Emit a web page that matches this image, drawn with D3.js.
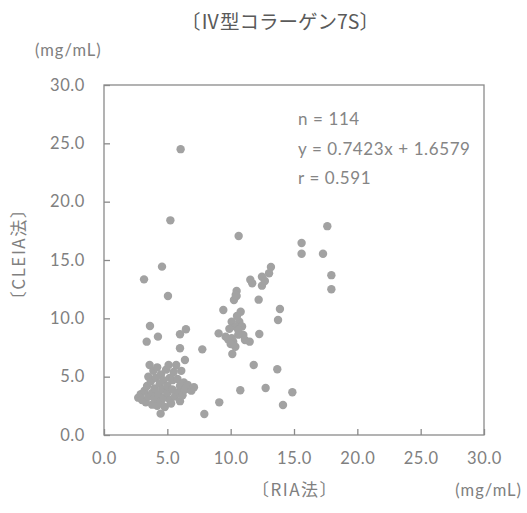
<!DOCTYPE html>
<html><head><meta charset="utf-8">
<script src="https://cdn.jsdelivr.net/npm/d3@7"></script>
<style>body{margin:0;background:#fff}</style>
</head><body>
<svg id="c" width="527" height="513"></svg>
<script>
const title = "〔Ⅳ型コラーゲン7S〕";
const xLabel = "〔RIA法〕";
const yLabel = "〔CLEIA法〕";
const unitLabel = "(mg/mL)";
const statLines = ["n = 114", "y = 0.7423x + 1.6579", "r = 0.591"];
const xTicks = [0, 5, 10, 15, 20, 25, 30];
const yTicks = [0, 5, 10, 15, 20, 25, 30];
const xValues = [6.05,5.24,10.63,17.63,15.6,15.6,17.29,17.95,17.95,4.58,3.16,5.05,13.18,13.03,12.47,11.55,12.47,10.47,10.47,10.26,12.21,13.89,13.74,9.42,10.79,10.08,10.68,10.39,9.05,9.6,10.08,11.0,11.13,11.5,12.26,10.37,10.13,7.76,3.63,4.26,3.37,6.0,6.47,6.0,6.39,11.82,13.68,10.76,12.76,14.87,9.1,14.13,7.92,4.47,
10.9,10.6,10.2,9.8,10.6,11.7,12.7,10.4,9.9,10.5,10.0,
2.7,2.9,3.0,3.2,3.3,3.4,3.5,3.5,3.6,3.7,3.8,3.8,3.9,4.0,4.0,4.1,4.2,4.2,4.3,4.4,4.5,4.5,4.6,4.7,4.7,4.8,4.9,5.0,5.0,5.1,5.2,5.2,5.3,5.4,5.5,5.4,5.6,5.7,5.8,5.9,6.0,6.0,6.1,6.2,6.3,6.4,6.6,6.9,7.1];
const yValues = [24.5,18.4,17.06,17.9,16.46,15.54,15.54,13.7,12.49,14.43,13.34,11.91,14.4,13.86,13.57,13.31,12.8,12.34,11.91,11.57,11.6,10.8,9.86,10.71,10.57,9.71,9.71,9.29,8.71,8.43,8.29,8.57,8.14,8.0,8.66,7.57,6.94,7.34,9.34,8.43,8.0,8.63,9.06,7.43,6.43,6.0,5.63,3.83,4.03,3.66,2.8,2.57,1.8,1.83,
9.3,9.0,8.0,8.2,8.6,13.0,13.2,12.0,9.1,10.2,7.8,
3.2,3.5,3.0,3.8,2.8,4.2,3.3,5.0,6.0,4.6,2.6,3.6,5.5,4.0,3.1,4.9,2.5,5.8,3.5,4.4,2.9,5.2,3.9,3.2,4.7,2.4,5.6,3.6,4.2,6.0,3.0,4.9,2.7,3.9,5.4,4.7,3.3,6.0,4.8,3.7,2.9,4.2,5.5,3.4,4.5,3.9,4.3,3.8,4.1];

const svg = d3.select("#c");
const L = 104, R = 484, T = 85, B = 435;
const x = d3.scaleLinear().domain([0, 30]).range([L, R]);
const y = d3.scaleLinear().domain([0, 30]).range([B, T]);
const font = "Lato, 'Noto Sans CJK JP', sans-serif";
const cjk = "'Noto Sans CJK JP', sans-serif";
const txt = "#808080";

// frame
svg.append("rect").attr("x", L).attr("y", T).attr("width", R - L).attr("height", B - T)
  .attr("fill", "none").attr("stroke", "#8a8a8a").attr("stroke-width", 1.3);

// axes (inner ticks)
const xa = svg.append("g").attr("transform", `translate(0,${B})`)
  .call(d3.axisBottom(x).tickValues(xTicks).tickSize(-6).tickPadding(17).tickFormat(d3.format(".1f")));
const ya = svg.append("g").attr("transform", `translate(${L},0)`)
  .call(d3.axisLeft(y).tickValues(yTicks).tickSize(-6).tickPadding(19).tickFormat(d3.format(".1f")));
[xa, ya].forEach(g => {
  g.select(".domain").remove();
  g.selectAll(".tick line").attr("stroke", "#8a8a8a").attr("stroke-width", 1.3);
  g.selectAll(".tick text").attr("fill", txt).attr("font-family", font).attr("font-size", 16.5)
    .attr("letter-spacing", 0.6);
});

// points
svg.append("g").selectAll("circle").data(xValues.map((v, i) => [v, yValues[i]])).join("circle")
  .attr("cx", d => x(d[0])).attr("cy", d => y(d[1])).attr("r", 4.2)
  .attr("fill", "#a2a2a2");

// stats
svg.append("g").selectAll("text").data(statLines).join("text")
  .attr("x", 298).attr("y", (d, i) => [125, 155, 184][i])
  .attr("fill", "#858585").attr("font-family", font).attr("font-size", 17)
  .attr("letter-spacing", 0.6)
  .text(d => d);

// title
svg.append("text").attr("x", 280).attr("y", 29).attr("text-anchor", "middle")
  .attr("fill", "#5a5a5a").attr("font-family", cjk).attr("font-size", 19.5)
  .text(title);

// units
svg.append("text").attr("x", 35).attr("y", 56).attr("fill", txt)
  .attr("font-family", font).attr("font-size", 16.5).attr("letter-spacing", 1).text(unitLabel);
svg.append("text").attr("x", 522).attr("y", 496).attr("text-anchor", "end").attr("fill", txt)
  .attr("font-family", font).attr("font-size", 16.5).attr("letter-spacing", 1).text(unitLabel);

// axis labels
svg.append("text").attr("x", 295).attr("y", 496).attr("text-anchor", "middle").attr("fill", txt)
  .attr("font-family", cjk).attr("font-size", 17).attr("letter-spacing", 1.5).text(xLabel);
svg.append("text").attr("transform", "translate(25,254) rotate(-90)").attr("text-anchor", "middle")
  .attr("fill", txt).attr("font-family", cjk).attr("font-size", 17).attr("letter-spacing", 1.5).text(yLabel);
</script>
</body></html>
